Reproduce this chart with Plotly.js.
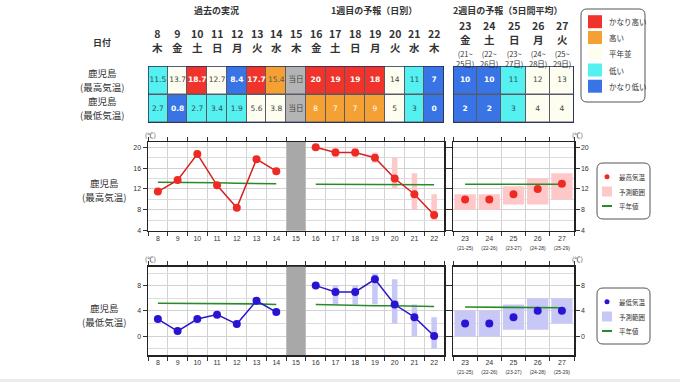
<!DOCTYPE html>
<html><head><meta charset="utf-8">
<script src="https://cdn.plot.ly/plotly-3.0.1.min.js"></script>
<style>html,body{margin:0;padding:0;background:#fff;}#chart{width:680px;height:382px;}</style>
</head><body><div id="chart"></div>
<script>
// ---------- DATA ----------
const days1 = [8,9,10,11,12,13,14,15,16,17,18,19,20,21,22];
const weekdays1 = ['木','金','土','日','月','火','水','木','金','土','日','月','火','水','木'];
const days2 = [23,24,25,26,27];
const weekdays2 = ['金','土','日','月','火'];
const periodStart = [21,22,23,24,25];
const periodEnd = [25,26,27,28,29];
const todayDay = 15;

// table: class 0=かなり低い 1=低い 2=平年並 3=高い 4=かなり高い 5=当日
const tableMaxText1 = ['11.5','13.7','18.7','12.7','8.4','17.7','15.4','当日','20','19','19','18','14','11','7'];
const tableMaxClass1 = [1,2,4,2,0,4,3,5,4,4,4,4,2,1,0];
const tableMinText1 = ['2.7','0.8','2.7','3.4','1.9','5.6','3.8','当日','8','7','7','9','5','3','0'];
const tableMinClass1 = [1,0,1,1,1,2,2,5,3,3,3,3,2,1,0];
const tableMaxText2 = ['10','10','11','12','13'];
const tableMaxClass2 = [0,0,1,2,2];
const tableMinText2 = ['2','2','3','4','4'];
const tableMinClass2 = [0,0,1,2,2];

const classNames = ['かなり低い','低い','平年並','高い','かなり高い','当日'];
const classColors = ['#3874e6','#55f0f0','#fdfdf0','#f5a032','#f0342c','#b4b4b4'];
const legendOrder = [4,3,2,1,0];

const obsDays = [8,9,10,11,12,13,14];
const fcDays = [16,17,18,19,20,21,22];

const obsMax = [11.5,13.7,18.7,12.7,8.4,17.7,15.4];
const fcMax = [20,19,19,18,14,11,7];
const fcMaxLo = [null,18,18,17,12,8,6];
const fcMaxHi = [null,20,20,19,18,15,11];
const wk2Max = [10,10,11,12,13];
const wk2MaxLo = [8,8,9,9,10];
const wk2MaxHi = [11,11,12.5,14,15];
const normMaxObs = [13.3,13.3,13.2,13.2,13.1,13.1,13.0];
const normMaxFc = [12.9,12.9,12.9,12.8,12.8,12.8,12.8];
const normMaxWk2 = [12.9,12.9,12.9,12.9,12.9];

const obsMin = [2.7,0.8,2.7,3.4,1.9,5.6,3.8];
const fcMin = [8,7,7,9,5,3,0];
const fcMinLo = [null,5,5,5,2,0,-2];
const fcMinHi = [null,8,8,10,9,5,3];
const wk2Min = [2,2,3,4,4];
const wk2MinLo = [0,0,1,1,2];
const wk2MinHi = [4,4,5,6,6];
const normMinObs = [5.2,5.2,5.1,5.1,5.1,5.1,5.0];
const normMinFc = [5.0,4.9,4.9,4.8,4.8,4.7,4.7];
const normMinWk2 = [4.6,4.6,4.6,4.5,4.5];

// ---------- HELPERS ----------
const W = 680, H = 382;
const px = x => x / W;
const py = y => 1 - y / H;
const JP = '"Noto Sans CJK JP", sans-serif';
const NUM = '"DejaVu Sans", "Noto Sans CJK JP", sans-serif';
const AXF = '"Liberation Sans", "Noto Sans CJK JP", sans-serif';
const TXT = '#333';

const RED = '#ee2a24', REDL = '#d82020', PINK = '#ffc8c8';
const BLUE = '#2a14d4', BLUEL = '#2a18c8', LAV = '#c8c8f6';
const GREEN = '#2a8a2a';

function diff(hi, lo){ return hi.map((h,i)=> (h==null||lo[i]==null) ? null : h - lo[i]); }

function cellStyle(cls, isObs){
  if (cls === 0 || cls === 4) return {c:'#ffffff', b:true};
  if (cls === 3) return isObs ? {c:'#555555', b:false} : {c:'#ffffff', b:false};
  if (cls === 5) return {c:'#444444', b:false};
  if (cls === 1) return {c:'#2f4f5a', b:false};
  return {c:'#444444', b:false};
}

function ann(text, x, y, size, o){
  return Object.assign({text, x: px(x), y: py(y), xref:'paper', yref:'paper', showarrow:false,
    xanchor:'center', yanchor:'middle', font:{size, color:TXT, family:JP}}, o||{});
}
function annX(text, x, xref, y, size){
  return {text, x, xref, y: py(y), yref:'paper', showarrow:false, xanchor:'center', yanchor:'middle',
    font:{size, color:TXT, family:JP}};
}

function rrect(x0,y0,x1,y1,r){
  const X=v=>px(v), Y=v=>py(v);
  return `M${X(x0+r)},${Y(y0)} L${X(x1-r)},${Y(y0)} Q${X(x1)},${Y(y0)} ${X(x1)},${Y(y0+r)} `+
    `L${X(x1)},${Y(y1-r)} Q${X(x1)},${Y(y1)} ${X(x1-r)},${Y(y1)} L${X(x0+r)},${Y(y1)} `+
    `Q${X(x0)},${Y(y1)} ${X(x0)},${Y(y1-r)} L${X(x0)},${Y(y0+r)} Q${X(x0)},${Y(y0)} ${X(x0+r)},${Y(y0)} Z`;
}

// ---------- GEOMETRY (pixels) ----------
const L1 = [148, 444], L2 = [453, 574];
const T = [66, 123];           // table
const C1 = [142, 230.7];       // chart1 top/bottom
const C2 = [266.7, 355];       // chart2 top/bottom

function xChart(dom, days, anchor, ticktext){
  return {domain:[px(dom[0]), px(dom[1])], range:[days[0]-0.5, days[days.length-1]+0.5], anchor,
    tickmode:'array', tickvals:days, ticktext: ticktext || days.map(String), ticks:'', showgrid:false,
    zeroline:false, showline:true, linecolor:'#222', linewidth:1.5, mirror:'ticks',
    tickfont:{size:7, color:TXT, family:AXF}, fixedrange:true,
    minor:{tickmode:'linear', tick0:0.5, dtick:1, showgrid:true, gridcolor:'#d2d2d2', gridwidth:1,
      ticks:'outside', ticklen:4, tickcolor:'#333', tickwidth:1}};
}
function yChart(dom, range, tickvals, anchor, side){
  return {domain:[py(dom[1]), py(dom[0])], range, anchor, side, tickmode:'array', tickvals,
    ticks:'outside', ticklen:4, tickcolor:'#333', showgrid:true, gridcolor:'#d2d2d2', zeroline:false,
    showline:true, linecolor:'#222', linewidth:1.5, mirror:'ticks',
    tickfont:{size:7, color:TXT, family:AXF}, fixedrange:true,
    minor:{tickmode:'linear', tick0:0, dtick:2, showgrid:true, gridcolor:'#dcdcdc', ticks:''}};
}

const wk2Tick = days2.map((d,i)=> `${d}<br><span style="font-size:5px">(${periodStart[i]}-${periodEnd[i]})</span>`);

// ---------- TRACES ----------
const traces = [];
traces.push({type:'heatmap', x:days1, y:[0,1], z:[tableMinClass1, tableMaxClass1], xaxis:'x5', yaxis:'y5',
  zmin:0, zmax:5, showscale:false, xgap:1, ygap:1.5, hoverinfo:'skip',
  colorscale: classColors.map((c,i)=>[i/5, c])});
traces.push({type:'heatmap', x:days2, y:[0,1], z:[tableMinClass2, tableMaxClass2], xaxis:'x6', yaxis:'y6',
  zmin:0, zmax:5, showscale:false, xgap:1, ygap:1.5, hoverinfo:'skip',
  colorscale: classColors.map((c,i)=>[i/5, c])});
function tableText(days, texts, classes, yv, xa, ya){
  const st = classes.map((c,i)=>cellStyle(c, days[i] < todayDay));
  return {type:'scatter', mode:'text', x:days, y:days.map(()=>yv), xaxis:xa, yaxis:ya, hoverinfo:'skip',
    text: texts.map((t,i)=> st[i].b ? `<b>${t}</b>` : t),
    textfont:{size:7.5, family:NUM, color: st.map(s=>s.c)}, cliponaxis:false};
}
traces.push(tableText(days1, tableMaxText1, tableMaxClass1, 1, 'x5','y5'));
traces.push(tableText(days1, tableMinText1, tableMinClass1, 0, 'x5','y5'));
traces.push(tableText(days2, tableMaxText2, tableMaxClass2, 1, 'x6','y6'));
traces.push(tableText(days2, tableMinText2, tableMinClass2, 0, 'x6','y6'));

function chartTraces(xa1, ya1, xa2, ya2, obs, fc, lo, hi, wk, wlo, whi, nObs, nFc, nWk, mc, lc, fillc){
  const t = [];
  t.push({type:'bar', x:fcDays, base:lo, y:diff(hi,lo), width:0.28, marker:{color:fillc}, xaxis:xa1, yaxis:ya1, hoverinfo:'skip'});
  t.push({type:'bar', x:days2, base:wlo, y:diff(whi,wlo), width:0.88, marker:{color:fillc}, xaxis:xa2, yaxis:ya2, hoverinfo:'skip'});
  [[obsDays,nObs,xa1,ya1],[fcDays,nFc,xa1,ya1],[days2,nWk,xa2,ya2]].forEach(([x,y,xa,ya])=>{
    t.push({type:'scatter', mode:'lines', x, y, xaxis:xa, yaxis:ya, line:{color:GREEN, width:1.6}, hoverinfo:'skip'});
  });
  t.push({type:'scatter', mode:'lines+markers', x:obsDays, y:obs, xaxis:xa1, yaxis:ya1,
    line:{color:lc, width:1.5}, marker:{color:mc, size:8}});
  t.push({type:'scatter', mode:'lines+markers', x:fcDays, y:fc, xaxis:xa1, yaxis:ya1,
    line:{color:lc, width:1.5}, marker:{color:mc, size:8}});
  t.push({type:'scatter', mode:'markers', x:days2, y:wk, xaxis:xa2, yaxis:ya2, marker:{color:mc, size:8}});
  return t;
}
traces.push(...chartTraces('x','y','x2','y2', obsMax, fcMax, fcMaxLo, fcMaxHi, wk2Max, wk2MaxLo, wk2MaxHi,
  normMaxObs, normMaxFc, normMaxWk2, RED, REDL, PINK));
traces.push(...chartTraces('x3','y3','x4','y4', obsMin, fcMin, fcMinLo, fcMinHi, wk2Min, wk2MinLo, wk2MinHi,
  normMinObs, normMinFc, normMinWk2, BLUE, BLUEL, LAV));

// ---------- ANNOTATIONS ----------
const anns = [];
anns.push(ann('<b>過去の実況</b>', 217, 11, 9));
anns.push(ann('<b>1週目の予報（日別）</b>', 374, 11, 9));
anns.push(ann('<b>2週目の予報（5日間平均）</b>', 508, 11, 9));
anns.push(ann('<b>日付</b>', 102, 42, 9));
[['最高気温',72.5,86.5,102],['最低気温',100.5,114.5,102],['最高気温',183,197,104],['最低気温',308,322,104]].forEach(([k,y1,y2,x])=>{
  anns.push(ann('鹿児島', x, y1, 9.5));
  anns.push(ann(`(${k})`, x, y2, 9.5));
});
days1.forEach((d,i)=>{
  anns.push(annX(`<b>${d}</b><br><b>${weekdays1[i]}</b>`, d, 'x5', 40, 10.5));
});
days2.forEach((d,i)=>{
  anns.push(annX(`<b>${d}</b><br><b>${weekdays2[i]}</b>`, d, 'x6', 33, 10.5));
  anns.push(annX(`(${periodStart[i]}~<br>${periodEnd[i]}日)`, d, 'x6', 58, 7.5));
});
[135, 259].forEach(y=>{
  anns.push(ann('(℃)', 150, y, 6.5));
  anns.push(ann('(℃)', 577, y, 6.5));
});

// ---------- SHAPES ----------
const shapes = [];
function tableShapes(days, xa, ya){
  const x0 = days[0]-0.5, x1 = days[days.length-1]+0.5;
  shapes.push({type:'rect', xref:xa, yref:ya, x0, x1, y0:-0.5, y1:1.5, fillcolor:'#5a5a66', line:{width:0}, layer:'below'});
  shapes.push({type:'rect', xref:xa, yref:ya, x0, x1, y0:-0.5, y1:1.5, fillcolor:'rgba(0,0,0,0)', line:{color:'#1c2a5c', width:1.5}, layer:'above'});
}
tableShapes(days1, 'x5', 'y5');
tableShapes(days2, 'x6', 'y6');
[['x','y domain'],['x3','y3 domain']].forEach(([xa,ya])=>{
  shapes.push({type:'rect', xref:xa, yref:ya, x0:todayDay-0.48, x1:todayDay+0.48, y0:0, y1:1,
    fillcolor:'#a8a8a8', line:{width:0}, layer:'above'});
});
// table legend
shapes.push({type:'path', xref:'paper', yref:'paper', path:rrect(581,9,645,102,6), line:{color:'#555', width:1}, fillcolor:'rgba(255,255,255,0)'});
const legY = [21.7, 37.5, 53.8, 70, 86.2];
legendOrder.forEach((cls,k)=>{
  shapes.push({type:'rect', xref:'paper', yref:'paper', x0:px(588), x1:px(602), y0:py(legY[k]+6.5), y1:py(legY[k]-6.5),
    fillcolor:classColors[cls], line:{width:0}});
  anns.push(ann(classNames[cls], 607, legY[k], 7.5, {xanchor:'left'}));
});
// chart legends
function chartLegend(top, label, dotc, fillc){
  shapes.push({type:'path', xref:'paper', yref:'paper', path:rrect(597,top,650,top+56,6), line:{color:'#555', width:1}, fillcolor:'rgba(255,255,255,0)'});
  const y1 = top+13.7, y2 = top+28.5, y3 = top+43;
  shapes.push({type:'circle', xref:'paper', yref:'paper', x0:px(604.5), x1:px(609.5), y0:py(y1+2.5), y1:py(y1-2.5), fillcolor:dotc, line:{width:0}});
  shapes.push({type:'rect', xref:'paper', yref:'paper', x0:px(602), x1:px(612), y0:py(y2+5), y1:py(y2-5), fillcolor:fillc, line:{width:0}});
  shapes.push({type:'line', xref:'paper', yref:'paper', x0:px(602), x1:px(612), y0:py(y3), y1:py(y3), line:{color:GREEN, width:2}});
  anns.push(ann(label, 617, y1, 6.5, {xanchor:'left'}));
  anns.push(ann('予測範囲', 617, y2, 6.5, {xanchor:'left'}));
  anns.push(ann('平年値', 617, y3, 6.5, {xanchor:'left'}));
}
chartLegend(163, '最高気温', RED, PINK);
chartLegend(288, '最低気温', BLUE, LAV);
shapes.push({type:'rect', xref:'paper', yref:'paper', x0:0, x1:1, y0:0, y1:py(379), fillcolor:'#ececec', line:{width:0}});

// ---------- LAYOUT ----------
const layout = {
  width:W, height:H, margin:{l:0,r:0,t:0,b:0}, paper_bgcolor:'#fff', plot_bgcolor:'#fff',
  showlegend:false, barmode:'overlay', font:{family:JP, color:TXT},
  xaxis: xChart(L1, days1, 'y'),
  yaxis: yChart(C1, [4,21], [4,8,12,16,20], 'x', 'left'),
  xaxis2: xChart(L2, days2, 'y2', wk2Tick),
  yaxis2: yChart(C1, [4,21], [4,8,12,16,20], 'x2', 'right'),
  xaxis3: xChart(L1, days1, 'y3'),
  yaxis3: yChart(C2, [-3,11], [0,4,8], 'x3', 'left'),
  xaxis4: xChart(L2, days2, 'y4', wk2Tick),
  yaxis4: yChart(C2, [-3,11], [0,4,8], 'x4', 'right'),
  xaxis5: {domain:[px(L1[0]), px(L1[1])], range:[days1[0]-0.5, days1[days1.length-1]+0.5], anchor:'y5', visible:false, fixedrange:true},
  yaxis5: {domain:[py(T[1]), py(T[0])], range:[-0.5,1.5], anchor:'x5', visible:false, fixedrange:true},
  xaxis6: {domain:[px(L2[0]), px(L2[1])], range:[days2[0]-0.5, days2[days2.length-1]+0.5], anchor:'y6', visible:false, fixedrange:true},
  yaxis6: {domain:[py(T[1]), py(T[0])], range:[-0.5,1.5], anchor:'x6', visible:false, fixedrange:true},
  annotations: anns, shapes
};
Plotly.newPlot('chart', traces, layout, {displayModeBar:false, staticPlot:true});
</script></body></html>
